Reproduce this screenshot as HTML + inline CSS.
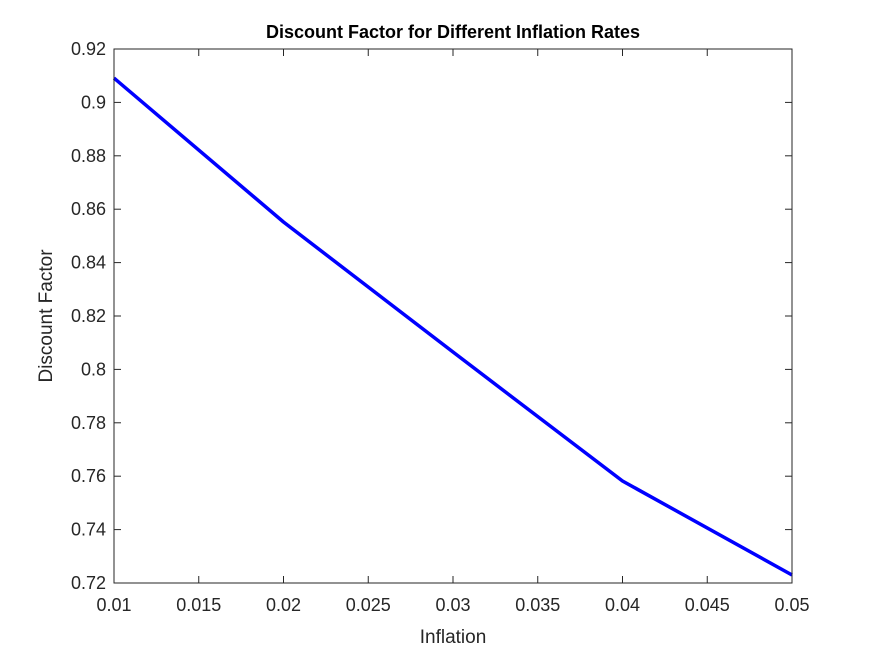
<!DOCTYPE html>
<html><head><meta charset="utf-8"><style>
body{margin:0;background:#fff;}
svg text{font-family:"Liberation Sans",Arial,sans-serif;fill:#262626;}
</style></head><body>
<svg width="875" height="656" xmlns="http://www.w3.org/2000/svg">
<rect width="875" height="656" fill="#fff"/>
<g id="ticks"></g>
<polyline id="line" fill="none" stroke="#0000ff" stroke-width="3.5" stroke-linejoin="round"/>
<rect x="114" y="49" width="678" height="534" fill="none" stroke="#262626" stroke-width="1"/>
<text x="453" y="38" text-anchor="middle" font-size="18" font-weight="bold" style="fill:#000">Discount Factor for Different Inflation Rates</text>
<text x="453" y="643" text-anchor="middle" font-size="19">Inflation</text>
<text transform="translate(52,316) rotate(-90)" text-anchor="middle" font-size="19">Discount Factor</text>
</svg>
<script>
const inflation=[0.01,0.02,0.03,0.04,0.05];
const discount=[0.9091,0.8552,0.8065,0.7582,0.7230];
const xTicks=[0.01,0.015,0.02,0.025,0.03,0.035,0.04,0.045,0.05];
const xTickLabels=["0.01","0.015","0.02","0.025","0.03","0.035","0.04","0.045","0.05"];
const yTicks=[0.72,0.74,0.76,0.78,0.8,0.82,0.84,0.86,0.88,0.9,0.92];
const yTickLabels=["0.72","0.74","0.76","0.78","0.8","0.82","0.84","0.86","0.88","0.9","0.92"];
const X0=114,X1=792,Y0=583,Y1=49;
function sx(v){return X0+(v-0.01)/(0.05-0.01)*(X1-X0);}
function sy(v){return Y0-(v-0.72)/(0.92-0.72)*(Y0-Y1);}
const NS="http://www.w3.org/2000/svg";
const g=document.getElementById('ticks');
function mk(t,a){const e=document.createElementNS(NS,t);for(const k in a)e.setAttribute(k,a[k]);return e;}
xTicks.forEach((v,i)=>{const x=sx(v);
 const t1=mk('line',{x1:x,x2:x,y1:Y0,y2:Y0-7,stroke:'#262626'});
 
 g.appendChild(t1);
 const t2=mk('line',{x1:x,x2:x,y1:Y1,y2:Y1+7,stroke:'#262626'});
 
 g.appendChild(t2);
 const tx=mk('text',{x:x,y:Y0+28,'text-anchor':'middle','font-size':'18'});tx.textContent=xTickLabels[i];
 
 g.appendChild(tx);});
yTicks.forEach((v,i)=>{const y=sy(v);
 const t1=mk('line',{x1:X0,x2:X0+7,y1:y,y2:y,stroke:'#262626'});
 
 g.appendChild(t1);
 const t2=mk('line',{x1:X1,x2:X1-7,y1:y,y2:y,stroke:'#262626'});
 
 g.appendChild(t2);
 const tx=mk('text',{x:X0-8,y:y+6,'text-anchor':'end','font-size':'18'});tx.textContent=yTickLabels[i];
 
 g.appendChild(tx);});
document.getElementById('line').setAttribute('points',inflation.map((v,i)=>sx(v)+','+sy(discount[i])).join(' '));
</script>
</body></html>
